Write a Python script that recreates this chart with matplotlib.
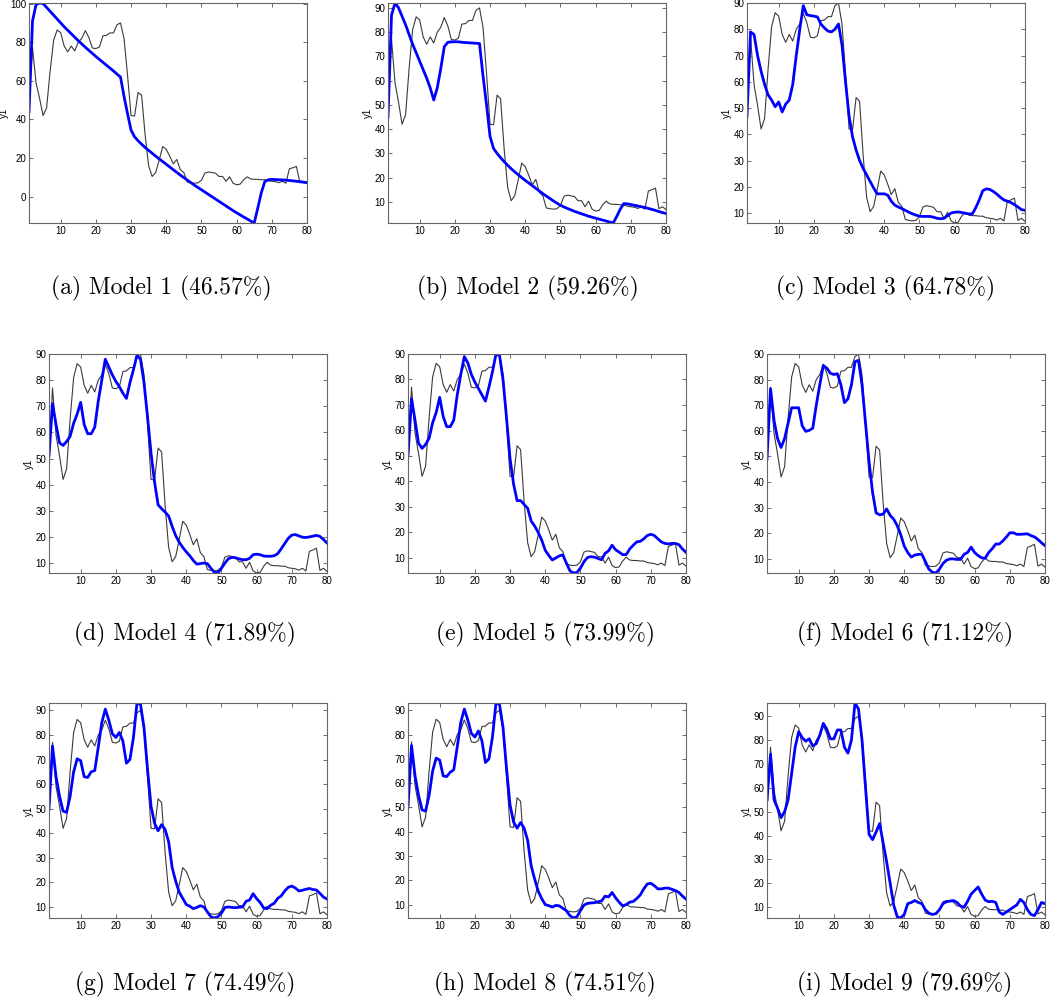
import matplotlib.pyplot as plt
import numpy as np
from matplotlib.ticker import MultipleLocator

plt.rcParams.update({
    "font.family": ["Liberation Sans", "DejaVu Sans"],
    "font.size": 7,
    "xtick.direction": "in",
    "ytick.direction": "in",
    "xtick.top": True,
    "ytick.right": True,
})

x = np.arange(1, 81)

measured = [50, 77, 59, 51, 42, 46, 65, 81, 86.3, 85,
            78, 75, 78, 75.5, 80, 82, 86, 82.5, 77, 76.7,
            77.5, 83.3, 83.5, 84.8, 84.8, 89, 90, 82, 63, 42,
            41.8, 54, 52.5, 32, 16, 10.5, 12.5, 19, 26, 24.5,
            21, 17, 19.3, 14, 12.5, 7.5, 7.2, 7, 7.2, 8.5,
            12.3, 12.8, 12.5, 12.2, 10.5, 10.5, 8, 10.3, 7, 6.2,
            6.5, 8.8, 10.3, 9.2, 9, 9, 8.8, 8.8, 8.2, 8,
            7.8, 7.3, 8, 7, 14.5, 15, 15.7, 7.2, 8, 6.8]

model1 = [44, 91, 99.5, 100.3, 100, 98, 96, 94, 92, 90,
          88, 86.2, 84.4, 82.6, 80.8, 79.1, 77.4, 75.8, 74.2, 72.6,
          71.1, 69.6, 68.1, 66.6, 65.1, 63.5, 62, 52, 43, 34.5,
          31, 29, 27.2, 25.5, 24, 22.5, 21, 19.6, 18.2, 16.8,
          15.4, 14, 12.6, 11.2, 9.9, 8.6, 7.3, 6, 4.8, 3.6,
          2.4, 1.2, 0, -1.2, -2.4, -3.6, -4.8, -6, -7.2, -8.3,
          -9.4, -10.5, -11.5, -12.6, -13.6, -6, 2, 7.8, 8.8, 9,
          8.9, 8.8, 8.7, 8.6, 8.4, 8.2, 8, 7.8, 7.5, 7.3]

model2 = [45, 87, 92, 90, 86.5, 83, 79, 75, 71.5, 68,
          64.5, 61, 57, 52, 57, 65, 74, 75.8, 76, 76,
          76, 75.8, 75.7, 75.6, 75.5, 75.4, 75.3, 62, 50, 37,
          32, 30, 28.2, 26.6, 25.1, 23.7, 22.4, 21.2, 20, 18.9,
          17.8, 16.7, 15.6, 14.5, 13.4, 12.4, 11.4, 10.4, 9.5, 8.6,
          7.9, 7.3, 6.7, 6.1, 5.6, 5.1, 4.6, 4.1, 3.7, 3.3,
          2.9, 2.5, 2.1, 1.7, 1.3, 4, 7, 9.3, 9.2, 8.9,
          8.6, 8.3, 8, 7.7, 7.3, 6.9, 6.5, 6, 5.6, 5.2]

model3 = [47, 79, 78, 70, 64, 59, 55, 53, 50.5, 52.3,
          48.5, 51.5, 53, 59, 70, 80, 89, 85.5, 85.2, 85,
          84.7, 82, 80.5, 79.3, 79, 80, 82, 74, 60, 47,
          39, 34, 30, 27, 24.5, 22, 19.5, 17.3, 17.3, 17.3,
          16.8, 14.5, 13, 12.3, 11.7, 11, 10.3, 9.7, 9.2, 8.8,
          8.7, 8.7, 8.7, 8.4, 8, 7.8, 8, 9, 10, 10.3,
          10.4, 10.2, 9.9, 9.7, 9.6, 12, 15, 18.5, 19.2, 19,
          18.2, 17.2, 16, 15, 14.5, 14, 13.2, 12.3, 11.3, 11]

model4 = [51, 71, 63, 56, 55, 56.5, 58.5, 63.5, 67, 71.5,
          63, 59.5, 59.5, 62, 72, 80, 88, 85, 82, 79.5,
          77.5, 75, 73, 79, 84, 89.5, 88, 79, 66, 52,
          41, 32.3, 30.8, 29.5, 28, 24, 20.5, 18, 16, 14.3,
          12.8, 11, 9.6, 9.8, 10, 9.8, 8, 6.5, 6.3, 8,
          10, 11.7, 12.2, 12, 11.6, 11.3, 11.3, 11.8, 13.2, 13.4,
          13.2, 12.7, 12.6, 12.6, 12.8, 13.6, 15.5, 17.5, 19.5, 20.7,
          20.9, 20.4, 19.9, 19.8, 20, 20.3, 20.6, 20.2, 19, 17.7]

model5 = [50, 72.5, 64, 55, 53, 54.5, 57, 63, 67, 73,
          65.5, 61.5, 61.5, 64, 74, 82, 89, 86.5, 82, 79,
          76.5, 74, 71.5, 77, 83, 90, 89.5, 80, 65, 49,
          39, 32.5, 32.5, 31, 29.5, 24.5, 22.5, 20, 17, 13,
          11, 9.2, 10, 10.8, 11.2, 8, 5, 4.1, 4.3, 6,
          8.5, 10.2, 10.5, 10.3, 9.8, 9.3, 11.8, 12.8, 15, 13.2,
          12.3, 11.3, 11.3, 13.5, 15, 16.3, 16.5, 17.5, 18.8, 19.3,
          18.8, 17.5, 16.3, 15.7, 15.5, 15.7, 15.7, 15.2, 13.5, 12.2]

model6 = [49, 76.5, 64, 57, 53.5, 57, 63, 69, 69, 69,
          62, 59.8, 60.2, 61, 70, 78, 85.5, 84.5, 82.5, 82,
          82.3, 78, 71, 72.5, 78, 87, 87.5, 78, 63, 48,
          36, 28, 27.2, 27.5, 29.5, 27, 25.5, 23, 19.5, 15,
          12.5, 10.7, 11.5, 11.8, 11.8, 9, 6, 4.8, 4.5, 6,
          8.2, 9.5, 10, 10, 9.8, 9.8, 11.8, 12.5, 14.6, 12.5,
          11.3, 10.4, 10.3, 12.5, 14, 15.8, 15.8, 17, 18.5, 20.2,
          20.2, 19.6, 19.6, 19.7, 19.8, 19.1, 18.6, 17.6, 16.3, 15.2]

model7 = [50, 75.5, 63, 55, 49, 48.5, 55, 65, 70.3, 69.5,
          63, 62.7, 65, 65.5, 75, 85, 90.5, 86, 80.5, 79,
          81, 77.5, 68.5, 70, 79, 93, 92.5, 83, 66, 51,
          44, 41, 43.5, 41.5, 36.5, 26, 20.5, 16, 13.5, 11,
          10.3, 9.3, 9.8, 10.5, 10, 8, 6, 5.5, 6, 7.5,
          9.8, 10, 9.8, 9.7, 9.9, 10, 12.3, 12.8, 15.4, 13.4,
          11.8, 9.6, 9.3, 10.7, 11.5, 13.5, 14.5, 16.5, 18, 18.5,
          17.7, 16.5, 16.8, 17.2, 17.5, 17.1, 16.9, 15.5, 14, 13.2]

model8 = [50, 75.5, 63, 55, 49, 48.5, 55, 65, 70.3, 69.5,
          63, 62.7, 64.5, 65.5, 75, 85, 90.5, 86, 80.5, 79,
          81.5, 77.5, 68.5, 70, 79, 93, 92.5, 83, 66, 51,
          44, 41.5, 43.8, 41.5, 36.5, 26, 20.5, 15.5, 12.5, 10,
          9.6, 9, 9.7, 9.5, 8.5, 7.5, 5.5, 4.5, 5, 7.5,
          9.8, 10.5, 10.7, 10.8, 11.2, 11.5, 13.5, 13.2, 15, 12.8,
          11, 9.5, 10, 11, 11.3, 12.5, 14, 16.5, 18.5, 18.8,
          17.8, 16.5, 16.5, 16.8, 16.8, 16.3, 15.8, 15, 13.5, 12.3]

model9 = [55, 74, 55, 51.5, 47.5, 50, 55, 66, 77, 83.5,
          81, 79.5, 80.5, 77.5, 78.5, 82, 87, 84.5, 80.5, 80.5,
          84.2, 84.2, 77, 74.5, 80, 95.5, 93, 80, 60, 40.5,
          38.3, 41.5, 45, 37, 29, 20, 11, 6, 5.5, 7,
          11.5, 12, 12.8, 12, 11.5, 9, 7.5, 7, 7.3, 9,
          11.5, 12.3, 12.6, 12.8, 12, 10.5, 10, 12.5, 15.5, 17,
          18.5, 15.5, 13, 12.3, 12.5, 12, 8, 7, 8, 9,
          10, 11, 13.3, 12, 9, 7, 6.5, 9, 12, 11.5]

models = [model1, model2, model3, model4, model5, model6, model7, model8, model9]
captions = ["(a) Model 1 (46.57%)", "(b) Model 2 (59.26%)", "(c) Model 3 (64.78%)",
            "(d) Model 4 (71.89%)", "(e) Model 5 (73.99%)", "(f) Model 6 (71.12%)",
            "(g) Model 7 (74.49%)", "(h) Model 8 (74.51%)", "(i) Model 9 (79.69%)"]

W, H = 1050, 999
fig = plt.figure(figsize=(W / 100, H / 100), dpi=100)

# axes boxes in pixels: left, top, bottom
col_left = [[29, 388, 747], [49, 408, 767], [49, 408, 767]]
row_top = [3, 354, 703]
row_bottom = [223, 573, 918]
axw = 278
caption_y = [288, 634, 984]
caption_x = [[161, 528, 886], [185, 545, 905], [185, 545, 905]]

for i, (yb, cap) in enumerate(zip(models, captions)):
    r, c = divmod(i, 3)
    l = col_left[r][c]
    t, b = row_top[r], row_bottom[r]
    ax = fig.add_axes([l / W, 1 - b / H, axw / W, (b - t) / H])
    ax.plot(x, measured, color="#3a3a3a", lw=0.8)
    ax.plot(x, yb, color="#0000ff", lw=2.0)
    lo = min(min(measured), min(yb))
    hi = max(max(measured), max(yb))
    ax.set_xlim(1, 80)
    ax.set_ylim(lo, hi)
    ax.xaxis.set_major_locator(MultipleLocator(10))
    ax.yaxis.set_major_locator(MultipleLocator(20 if i == 0 else 10))
    ax.set_ylabel("y1", fontsize=7, labelpad=1)
    ax.tick_params(labelsize=7, length=3, width=0.6, color="#555555", pad=2)
    for s in ax.spines.values():
        s.set_color("#666666")
        s.set_linewidth(0.8)
    fig.text(caption_x[r][c] / W, 1 - caption_y[r] / H, cap,
             family="cmr10", fontsize=17, ha="center", va="center")

fig.savefig("out.png", dpi=100)
